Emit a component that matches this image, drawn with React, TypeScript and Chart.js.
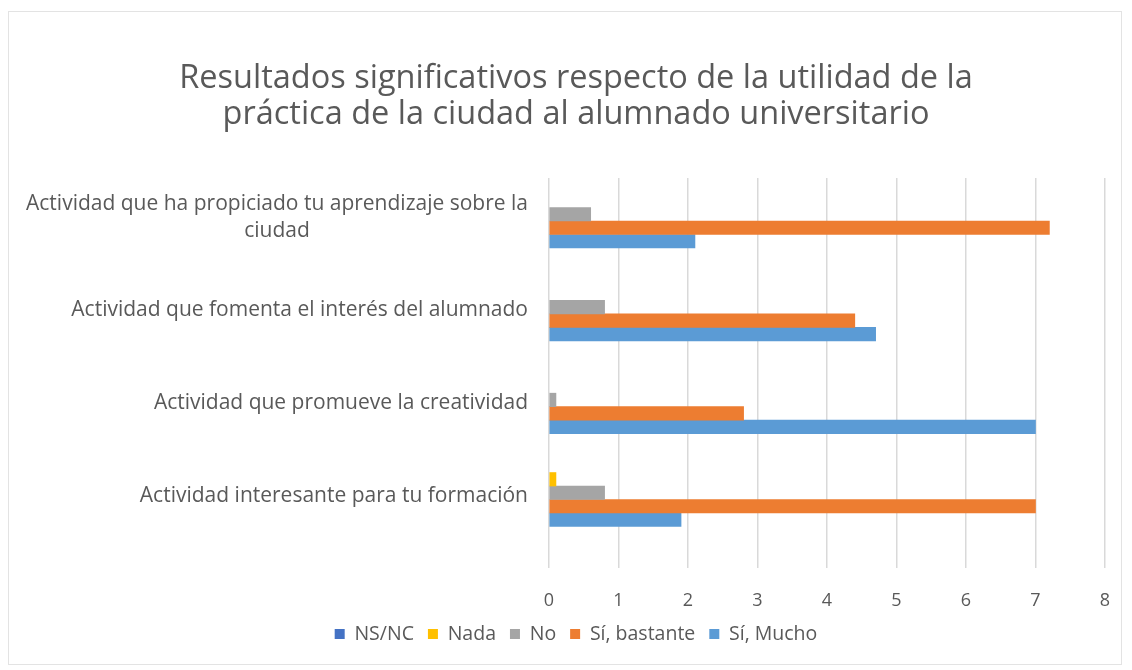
import React, { useEffect, useRef } from "react";
import { Chart, registerables } from "chart.js";
Chart.register(...registerables);

const titleLines = [
  "Resultados significativos respecto de la utilidad de la",
  "práctica de la ciudad al alumnado universitario",
];
const categories: string[][] = [
  ["Actividad que ha propiciado tu aprendizaje sobre la", "ciudad"],
  ["Actividad que fomenta el interés del alumnado"],
  ["Actividad que promueve la creatividad"],
  ["Actividad interesante para tu formación"],
];
const seriesNames = ["NS/NC", "Nada", "No", "Sí, bastante", "Sí, Mucho"];
const nsnc = [0, 0, 0, 0];
const nada = [0, 0, 0, 0.1];
const no = [0.6, 0.8, 0.1, 0.8];
const siBastante = [7.2, 4.4, 2.8, 7.0];
const siMucho = [2.1, 4.7, 7.0, 1.9];
const seriesColors = ["#4472C4", "#FFC000", "#A5A5A5", "#ED7D31", "#5B9BD5"];
const xMin = 0;
const xMax = 8;
const yMin = -0.39;
const yMax = 3.81;

const FONT = '"Open Sans", sans-serif';
const TEXT = "#595959";
const Y_FONT_SIZE = 21;

const yLabelPlugin = {
  id: "yLabelPlugin",
  afterDraw(chart: any) {
    const ctx = chart.ctx;
    const ys = chart.scales.y;
    ctx.save();
    ctx.font = `${Y_FONT_SIZE}px ${FONT}`;
    ctx.fillStyle = TEXT;
    ctx.textBaseline = "middle";
    ctx.textAlign = "center";
    const right = chart.chartArea.left - 21;
    categories.forEach((lines, i) => {
      const w = Math.max(...lines.map((l) => ctx.measureText(l).width));
      const cx = right - w / 2;
      const cy = ys.getPixelForValue(i) + 3;
      const lh = 27;
      lines.forEach((l, j) => {
        ctx.fillText(l, cx, cy + (j - (lines.length - 1) / 2) * lh);
      });
    });
    ctx.restore();
  },
};

export default function App() {
  const ref = useRef<HTMLCanvasElement | null>(null);
  useEffect(() => {
    if (!ref.current) return;
    const data = [nsnc, nada, no, siBastante, siMucho];
    const chart = new Chart(ref.current, {
      type: "bar",
      data: {
        datasets: seriesNames.map((name, i) => ({
          label: name,
          data: data[i].map((v, k) => ({ x: v, y: k })),
          backgroundColor: seriesColors[i],
          borderWidth: 0,
          barThickness: 13.5,
          inflateAmount: (c: any) => (c.raw && c.raw.x === 0 ? 0 : "auto"),
        })),
      },
      options: {
        indexAxis: "y",
        animation: false,
        responsive: false,
        layout: { padding: { left: 38, right: 16, top: 0, bottom: 10.25 } },
        plugins: {
          title: {
            display: true,
            text: titleLines,
            color: TEXT,
            font: { family: FONT, size: 32.5, weight: "normal", lineHeight: 1.1 },
            padding: { top: 49, bottom: 45.5 },
          },
          legend: {
            position: "bottom",
            labels: {
              color: TEXT,
              font: { family: FONT, size: 19.5 },
              boxWidth: 10,
              boxHeight: 10,
              padding: 14,
            },
          },
          tooltip: { enabled: false },
        },
        scales: {
          x: {
            type: "linear",
            min: xMin,
            max: xMax,
            ticks: {
              stepSize: 1,
              color: TEXT,
              font: { family: FONT, size: 18, lineHeight: 1 },
              padding: 4,
            },
            grid: {
              color: "#d9d9d9",
              lineWidth: 1.5,
              drawTicks: true,
              tickLength: 20,
              tickColor: "rgba(0,0,0,0)",
            },
            border: { display: false },
            afterFit: (s: any) => {
              s.height = 42.25;
            },
          },
          y: {
            type: "linear",
            min: yMin,
            max: yMax,
            bounds: "data",
            offset: false,
            reverse: true,
            ticks: { display: false, stepSize: 1, includeBounds: false },
            grid: { display: false, offset: false },
            border: { display: false },
            afterFit: (s: any) => {
              s.width = 502;
            },
          },
        },
      },
      plugins: [yLabelPlugin],
    });
    return () => chart.destroy();
  }, []);
  return (
    <div
      style={{
        width: 1114,
        height: 654,
        marginTop: 3,
        boxSizing: "border-box",
        border: "1px solid #e3e3e3",
        background: "#fff",
      }}
    >
      <canvas ref={ref} width={1112} height={652} style={{ display: "block" }} />
    </div>
  );
}
